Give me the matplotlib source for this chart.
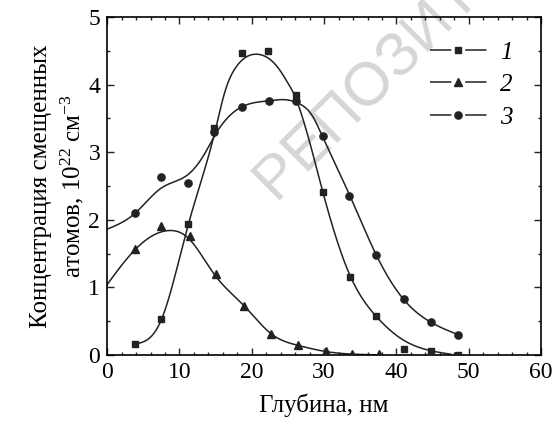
import matplotlib
matplotlib.use("Agg")
import matplotlib.pyplot as plt
from matplotlib.lines import Line2D
from matplotlib.ticker import MultipleLocator
import numpy as np

# ─── Data ─────────────────────────────────────────────────────────────────────

# measured points
x_sq  = [3.8, 7.5, 11.2, 14.8, 18.6, 22.3, 26.1, 29.8, 33.6, 37.2, 41.1, 44.8, 48.5]
y_sq  = [0.16, 0.53, 1.93, 3.36, 4.47, 4.50, 3.85, 2.41, 1.15, 0.57, 0.08, 0.05, 0.0]

x_tri = [3.8, 7.5, 11.5, 15.1, 18.9, 22.7, 26.4, 30.2, 33.9, 37.6]
y_tri = [1.56, 1.91, 1.76, 1.19, 0.73, 0.31, 0.14, 0.05, 0.02, 0.02]

x_cir = [3.8, 7.5, 11.2, 14.8, 18.6, 22.4, 26.1, 29.8, 33.5, 37.2, 41.0, 44.8, 48.5]
y_cir = [2.10, 2.63, 2.55, 3.30, 3.67, 3.76, 3.75, 3.24, 2.35, 1.48, 0.82, 0.48, 0.30]

# fitted curves, sampled where they were read
cx1 = [3.8, 7.5, 11.2, 14.9, 16.3, 17.7, 19.1, 20.7, 22.3, 23.7, 24.9, 26.0,
       26.9, 28.1, 29.8, 33.6, 37.2, 40.5, 44.8, 47.5]
cy1 = [0.16, 0.52, 1.92, 3.30, 3.90, 4.24, 4.40, 4.45, 4.39, 4.24, 4.04, 3.82,
       3.55, 3.11, 2.42, 1.17, 0.57, 0.25, 0.06, 0.01]

cx2 = [0.0, 3.8, 8.5, 11.2, 14.9, 18.9, 22.7, 26.4, 30.2, 34.0, 38.0]
cy2 = [1.04, 1.55, 1.84, 1.73, 1.18, 0.73, 0.31, 0.14, 0.05, 0.01, 0.0]

cx3 = [0.0, 3.8, 7.5, 11.2, 13.5, 14.9, 18.6, 22.3, 25.1, 26.5, 28.3, 29.7,
       33.5, 37.2, 41.0, 44.8, 48.5]
cy3 = [1.86, 2.09, 2.47, 2.67, 2.98, 3.25, 3.67, 3.76, 3.77, 3.72, 3.55, 3.25,
       2.37, 1.48, 0.82, 0.48, 0.30]

labels = ["1", "2", "3"]

# ─── Helpers ──────────────────────────────────────────────────────────────────

def natural_spline(x, y, n=400):
    x = np.asarray(x, float)
    y = np.asarray(y, float)
    k = len(x)
    h = np.diff(x)
    A = np.zeros((k, k))
    b = np.zeros(k)
    A[0, 0] = A[-1, -1] = 1.0
    for i in range(1, k - 1):
        A[i, i - 1] = h[i - 1]
        A[i, i] = 2 * (h[i - 1] + h[i])
        A[i, i + 1] = h[i]
        b[i] = 6 * ((y[i + 1] - y[i]) / h[i] - (y[i] - y[i - 1]) / h[i - 1])
    m = np.linalg.solve(A, b)
    xs = np.linspace(x[0], x[-1], n)
    j = np.clip(np.searchsorted(x, xs) - 1, 0, k - 2)
    t0 = x[j + 1] - xs
    t1 = xs - x[j]
    hj = h[j]
    ys = (m[j] * t0**3 + m[j + 1] * t1**3) / (6 * hj) \
        + (y[j] / hj - m[j] * hj / 6) * t0 \
        + (y[j + 1] / hj - m[j + 1] * hj / 6) * t1
    return xs, ys

# ─── Style ────────────────────────────────────────────────────────────────────

plt.rcParams.update({
    "font.family":      "Liberation Serif",
    "mathtext.fontset": "custom",
    "mathtext.rm":      "Liberation Serif",
    "mathtext.it":      "Liberation Serif:italic",
    "axes.linewidth":   1.2,
})

INK = "#222222"

fig = plt.figure(figsize=(5.55, 4.26), dpi=100)
ax = fig.add_axes([0.193, 0.167, 0.782, 0.793])
ax.set_facecolor("none")

# watermark behind everything
fig.text(0.497, 0.530, "РЕПОЗИТОРИЙ", family="Liberation Sans",
         fontsize=44, color="#d6d6d6", rotation=45,
         rotation_mode="anchor", ha="left", va="baseline", zorder=-5)

for cx, cy in [(cx1, cy1), (cx2, cy2), (cx3, cy3)]:
    xs, ys = natural_spline(cx, cy)
    ax.plot(xs, ys, color=INK, lw=1.1, zorder=2)

ax.plot(x_cir, y_cir, "o", color=INK, ms=5.2, zorder=3)
ax.plot(x_tri, y_tri, "^", color=INK, ms=5.5, zorder=3)
ax.plot(x_sq, y_sq, "s", color=INK, ms=4.5, zorder=4)

ax.set_xlim(0, 60)
ax.set_ylim(0, 5)
ax.xaxis.set_major_locator(MultipleLocator(10))
ax.xaxis.set_minor_locator(MultipleLocator(2))
ax.yaxis.set_major_locator(MultipleLocator(1))
ax.yaxis.set_minor_locator(MultipleLocator(0.5))
ax.tick_params(which="both", direction="in", top=True, right=True,
               labelsize=17, width=1.0, color=INK, pad=5)
ax.tick_params(which="major", length=5)
ax.tick_params(which="minor", length=2.5)

ax.set_xlabel("Глубина, нм", fontsize=18, labelpad=8)
ax.set_ylabel("Концентрация смещенных\nатомов, $10^{22}$ см$^{-3}$",
              fontsize=18, labelpad=2, linespacing=1.3)

# legend: — marker — label
dash = (0, (14, 9, 14, 9))
handles = [
    Line2D([], [], color=INK, lw=1.1, ls=dash, marker="s", ms=4.5),
    Line2D([], [], color=INK, lw=1.1, ls=dash, marker="^", ms=5.5),
    Line2D([], [], color=INK, lw=1.1, ls=dash, marker="o", ms=5.2),
]
leg = ax.legend(handles, labels, loc="upper right", frameon=False,
                numpoints=1, handlelength=2.3, handletextpad=0.5,
                labelspacing=0.4, bbox_to_anchor=(0.985, 0.995),
                prop={"family": "Liberation Serif", "style": "italic", "size": 18})

fig.savefig("out.png", dpi=100, facecolor="white")
